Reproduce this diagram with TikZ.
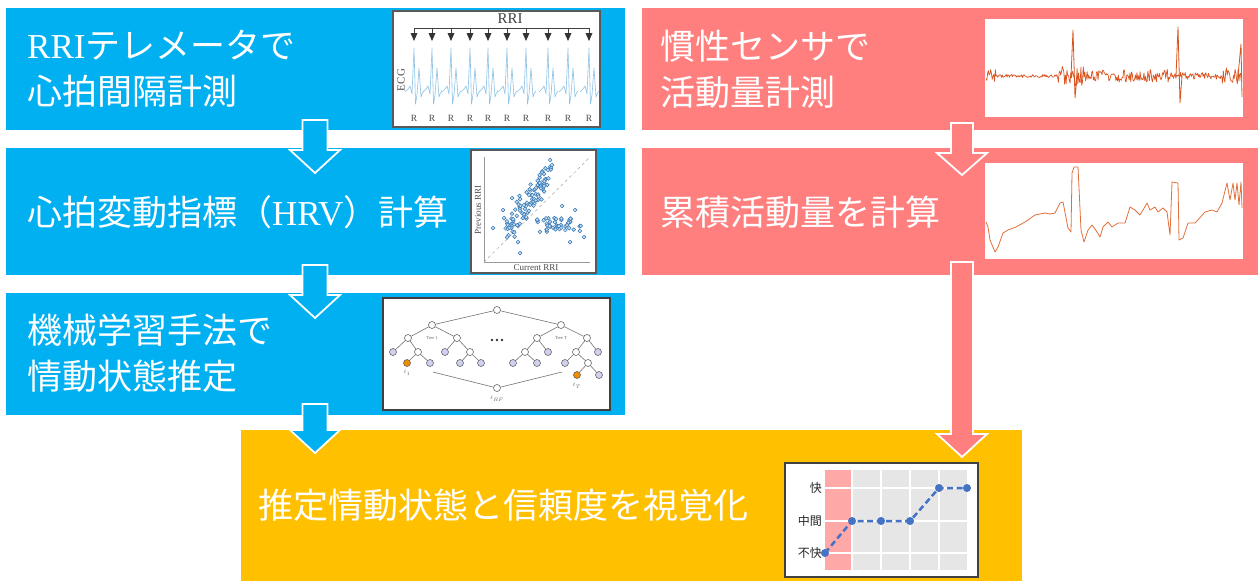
\documentclass[tikz,border=0pt]{standalone}
\usepackage{fontspec}
\setmainfont{Liberation Serif}
\newfontfamily\jp{Noto Sans CJK JP}
\usetikzlibrary{calc}
\definecolor{bblue}{HTML}{00B0F0}
\definecolor{ppink}{HTML}{FF7F7F}
\definecolor{yyel}{HTML}{FFC000}
\definecolor{ecgc}{HTML}{8CC3E6}
\definecolor{scat}{HTML}{2E75B6}
\definecolor{leafc}{HTML}{D0D0F2}
\definecolor{orng}{HTML}{F08C00}
\definecolor{accA}{HTML}{D9541E}
\definecolor{accB}{HTML}{E2703A}
\definecolor{dotb}{HTML}{4472C4}
\definecolor{frame}{HTML}{404040}
\definecolor{cellg}{HTML}{E6E6E6}
\definecolor{cellp}{HTML}{FFA8A8}
\newcommand\blockarrow[6]{% start, tip, colour, half shaft, half head, head length
  \filldraw[fill=#3, draw=white, line width=1.8pt, line join=miter]
    let \p1=(#1), \p2=(#2) in
    (\x1-#4pt,\y1) -- (\x1+#4pt,\y1) -- (\x1+#4pt,\y2+#6pt) -- (\x1+#5pt,\y2+#6pt)
    -- (\x2,\y2) -- (\x1-#5pt,\y2+#6pt) -- (\x1-#4pt,\y2+#6pt) -- cycle;}
\begin{document}
\begin{tikzpicture}[x=1pt, y=-1pt,
  box/.style={anchor=north west, inner sep=0, outer sep=0, draw=none},
  lbl/.style={anchor=west, inner sep=0, text=white, align=left,
              font=\jp\fontsize{35}{46}\selectfont},
  img/.style={box, fill=white},
  ecg/.style={ecgc, line width=0.6pt, line join=round},
  rlab/.style={inner sep=0, text=black!70, font=\rmfamily\fontsize{9.5}{10}\selectfont},
  tn/.style={circle, draw=black!60, fill=white, line width=0.6pt, minimum size=7pt, inner sep=0},
  tleaf/.style={tn, fill=leafc},
  torg/.style={tn, fill=orng},
  tedge/.style={black!55, line width=0.6pt},
  tiny/.style={inner sep=0, text=black!60, font=\rmfamily\fontsize{4.5}{5}\selectfont},
  sdot/.style={scat, fill=scat!25, line width=0.5pt},
  ylab/.style={anchor=east, inner sep=0, text=black!85, font=\jp\fontsize{12}{14}\selectfont}
]
\useasboundingbox (0,0) rectangle (1258,581);
\fill[white] (0,0) rectangle (1258,581);

% ---------- stage boxes ----------
\node[box, fill=bblue, minimum width=619pt, minimum height=122pt] (b1) at (6,8) {};
\node[box, fill=bblue, minimum width=619pt, minimum height=127pt] (b2) at (6,148) {};
\node[box, fill=bblue, minimum width=619pt, minimum height=122pt] (b3) at (6,293) {};
\node[box, fill=ppink, minimum width=616pt, minimum height=122pt] (p1) at (642,8) {};
\node[box, fill=ppink, minimum width=616pt, minimum height=127pt] (p2) at (642,148) {};
\node[box, fill=yyel, minimum width=781pt, minimum height=151pt] (yb) at (241,430) {};

% ---------- texts ----------
\node[lbl] (t1) at (27,69) {{\rmfamily RRI}テレメータで\\心拍間隔計測};
\node[lbl] (t2) at (27,212) {心拍変動指標（{\rmfamily HRV}）計算};
\node[lbl] (t3) at (27,353) {機械学習手法で\\情動状態推定};
\node[lbl] (t4) at (660,69) {慣性センサで\\活動量計測};
\node[lbl] (t5) at (660,212) {累積活動量を計算};
\node[lbl] (t6) at (258,505) {推定情動状態と信頼度を視覚化};

% ---------- ECG image ----------
\node[img, draw=black!65, line width=1.1pt, minimum width=207pt, minimum height=116pt] (ecgimg) at (393,11) {};
\node[inner sep=0, text=black!75, font=\rmfamily\fontsize{15}{15}\selectfont] (rri) at (510,19) {RRI};
\draw[black!75, line width=0.9pt] (414,28) -- (589,28);
\foreach \p in {414,432,451,470,488,507,526,548,568,589}{
  \draw[black!75, line width=0.9pt] (\p,28) -- (\p,33);
  \fill[black!80] ({\p-3.5},33) -- ({\p+3.5},33) -- (\p,41) -- cycle;
  \draw[ecg] ({\p-9},92) -- ({\p-6},89) -- ({\p-4},86) -- ({\p-2},94) -- (\p,48) -- ({\p+1.5},104)
     -- ({\p+3},95) -- ({\p+5},68) -- ({\p+7},97) -- ({\p+8.5},93) -- ({\p+10},91);
}
\node[rotate=90, inner sep=0, text=black!70, font=\rmfamily\fontsize{11}{11}\selectfont] (ecglab) at (401,80) {ECG};
\foreach \p [count=\i] in {414,432,451,470,488,507,526,548,568,589}
  \node[rlab] (r\i) at (\p,118) {R};

% ---------- scatter image ----------
\node[img, draw=black!65, line width=1.1pt, minimum width=125pt, minimum height=123pt] (scimg) at (471,150) {};
\draw[black!40, line width=0.4pt] (484,157) -- (484,262) -- (590,262);
\draw[black!35, dashed, line width=0.5pt] (484,262) -- (590,157);
\node[rotate=90, inner sep=0, text=black!70, font=\rmfamily\fontsize{9}{9}\selectfont] (ylabsc) at (478,210) {Previous RRI};
\node[inner sep=0, text=black!70, font=\rmfamily\fontsize{9}{9}\selectfont] (xlabsc) at (536,268) {Current RRI};
\pgfmathsetseed{11}
\foreach \i in {1,...,95}{
  \pgfmathsetmacro\tt{rnd}
  \pgfmathsetmacro\px{508+42*\tt+7*rand}
  \pgfmathsetmacro\py{230-60*\tt+9*rand}
  \draw[sdot] (\px,\py) circle[radius=1.9pt];
}
\foreach \i in {1,...,45}{
  \pgfmathsetmacro\px{537+44*rnd}
  \pgfmathsetmacro\py{225+7*rand}
  \draw[sdot] (\px,\py) circle[radius=1.9pt];
}
\foreach \px/\py in {493/228,518/242,520/253,570/242,584/237,550/160,552/165,548/170,503/210,504/218,512/198,575/210,562/206}
  \draw[sdot] (\px,\py) circle[radius=1.9pt];

% ---------- tree image ----------
\node[img, draw=frame, line width=2pt, minimum width=227pt, minimum height=112pt] (trimg) at (383,298) {};
\node[tn] (root) at (497,310) {};
\node[tn] (L) at (432,325) {};
\node[tn] (R) at (561,325) {};
\node[tn] (A) at (408,338) {};
\node[tn] (B) at (457,338) {};
\node[tleaf] (A1) at (393,352) {};
\node[tn] (C) at (418,352) {};
\node[torg] (C1) at (407,363) {};
\node[tleaf] (C2) at (430,363) {};
\node[tleaf] (B1) at (445,352) {};
\node[tn] (B2) at (470,352) {};
\node[tleaf] (B21) at (460,363) {};
\node[tleaf] (B22) at (481,363) {};
\node[tn] (D) at (537,338) {};
\node[tn] (E) at (587,338) {};
\node[tn] (D1) at (525,352) {};
\node[tleaf] (D2) at (548,352) {};
\node[tleaf] (D11) at (513,363) {};
\node[tleaf] (D12) at (537,363) {};
\node[tn] (E1) at (576,352) {};
\node[tleaf] (E2) at (598,352) {};
\node[tleaf] (E11) at (565,363) {};
\node[tn] (E12) at (588,363) {};
\node[torg] (E121) at (577,375) {};
\node[tleaf] (E122) at (599,375) {};
\node[tn] (ens) at (497,388) {};
\coordinate (lfrom) at (433,372);
\coordinate (rfrom) at (562,372);
\foreach \u/\v in {root/L,root/R,L/A,L/B,A/A1,A/C,C/C1,C/C2,B/B1,B/B2,B2/B21,B2/B22,
                   R/D,R/E,D/D1,D/D2,D1/D11,D1/D12,E/E1,E/E2,E1/E11,E1/E12,E12/E121,E12/E122,
                   lfrom/ens,rfrom/ens}
  \draw[tedge] (\u) -- (\v);
\node[tiny] (tree1) at (432,338) {Tree 1};
\node[tiny] (treeT) at (561,338) {Tree T};
\node[tiny] (l1) at (407,373) {$\ell_1$};
\node[tiny] (lT) at (577,386) {$\ell_T$};
\node[tiny] (lRF) at (497,399) {$\ell_{RF}$};
\foreach \dx in {-5,0,5} \fill[black!80] ({497+\dx},340) circle[radius=1.3pt];

% ---------- inertial sensor trace ----------
\node[img, minimum width=258pt, minimum height=98pt] (acc1) at (985,19) {};
\pgfmathsetseed{3}
\draw[accA, line width=0.7pt, line join=round]
  plot[domain=986:1242, samples=330, variable=\t]
  (\t, {76 + (1.6 + 5*(\t<996) + 8*(\t>1058)*(\t<1086) + 5*(\t>1086)*(\t<1172) + 2*(\t>1172)*(\t<1222) + 7*(\t>1222))*rand});
\draw[accA, line width=0.8pt, line join=round] (1071,76) -- (1073,30) -- (1075,98) -- (1077,76);
\draw[accA, line width=0.8pt, line join=round] (1176,76) -- (1178,27) -- (1180,103) -- (1182,76);
\draw[accA, line width=0.8pt, line join=round] (1238,76) -- (1241,44) -- (1242,97);

% ---------- cumulative activity trace ----------
\node[img, minimum width=258pt, minimum height=96pt] (acc2) at (985,163) {};
\draw[accB, line width=0.8pt, line join=round] plot coordinates {
 (986,222) (988,227) (990,240) (995,252) (998,247) (1003,233) (1008,230) (1016,227) (1025,222)
 (1035,215) (1045,213) (1050,214) (1055,213) (1060,203) (1063,202) (1068,228) (1071,232) (1072,173)
 (1074,167) (1078,167) (1081,230) (1084,242) (1088,230) (1092,225) (1097,232) (1100,237) (1103,227)
 (1108,222) (1112,227) (1118,223) (1125,223) (1130,207) (1135,210) (1140,215) (1143,210) (1147,203)
 (1150,210) (1155,207) (1158,212) (1163,208) (1167,212) (1170,235) (1172,182) (1178,183) (1179,240)
 (1183,238) (1188,223) (1195,223) (1205,212) (1212,210) (1217,212) (1222,203) (1227,183) (1230,200)
 (1233,183) (1235,200) (1237,183) (1239,205) (1241,182) (1242,208)};

% ---------- visualisation chart ----------
\node[img, draw=frame, line width=2.5pt, minimum width=193pt, minimum height=114pt] (chart) at (785,463) {};
\fill[cellp] (825,470) rectangle (852,570);
\fill[cellg] (852,470) rectangle (967,570);
\foreach \gx in {852,881,910,939} \draw[white, line width=2pt] (\gx,470) -- (\gx,570);
\foreach \gy in {488,521,553} \draw[white, line width=2pt] (825,\gy) -- (967,\gy);
\node[ylab] (yk) at (822,488) {快};
\node[ylab] (ym) at (822,521) {中間};
\node[ylab] (yf) at (822,553) {不快};
\foreach \n/\px/\py in {d1/825/553,d2/852/521,d3/881/521,d4/910/521,d5/939/488,d6/967/488}
  \node[circle, fill=dotb, inner sep=0, minimum size=8pt] (\n) at (\px,\py) {};
\draw[dotb, line width=2.5pt, dash pattern=on 6pt off 3.5pt] (d1.center) -- (d2.center) -- (d3.center) -- (d4.center) -- (d5.center) -- (d6.center);

% ---------- block arrows ----------
\coordinate (a1s) at (315,120); \coordinate (a1e) at (315,173);
\coordinate (a2s) at (315,265); \coordinate (a2e) at (315,318);
\coordinate (a3s) at (315,404); \coordinate (a3e) at (315,453);
\coordinate (a4s) at (962,123); \coordinate (a4e) at (962,175);
\coordinate (a5s) at (962,262); \coordinate (a5e) at (962,457);
\blockarrow{a1s}{a1e}{bblue}{12.5}{25}{23}
\blockarrow{a2s}{a2e}{bblue}{12.5}{25}{23}
\blockarrow{a3s}{a3e}{bblue}{12.5}{25}{23}
\blockarrow{a4s}{a4e}{ppink}{11}{25}{22}
\blockarrow{a5s}{a5e}{ppink}{11}{25}{23}
\end{tikzpicture}
\end{document}
